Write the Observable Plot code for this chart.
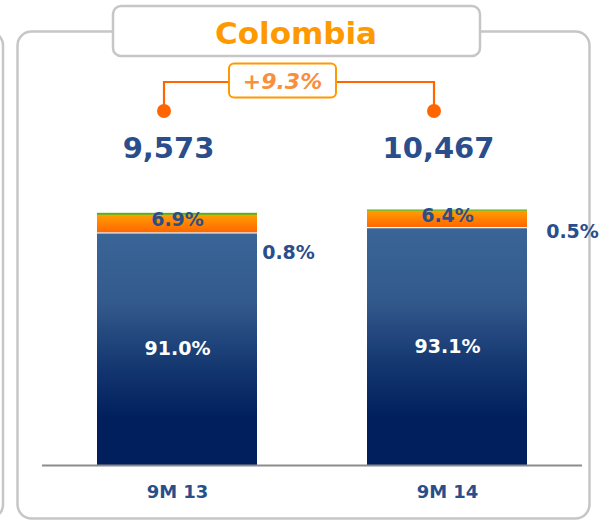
<!DOCTYPE html>
<html><head><meta charset="utf-8">
<script src="https://cdn.jsdelivr.net/npm/d3@7"></script>
<script src="https://cdn.jsdelivr.net/npm/@observablehq/plot@0.6"></script>
<style>body{margin:0;background:#fff;overflow:hidden}</style>
</head><body><div id="chart"></div>
<script>
const title = "Colombia";
const growthLabel = "+9.3%";
const periods = ["9M 13", "9M 14"];
const totals = [9573, 10467];
const mainShare = [91.0, 93.1];
const midShare = [6.9, 6.4];
const topShare = [0.8, 0.5];
const segments = ["main", "mid", "top"];

const fmtPct = v => v.toFixed(1) + "%";
const fmtTot = d3.format(",");
const rows = [];
periods.forEach((p, i) => {
  rows.push({period: p, segment: "main", value: mainShare[i]});
  rows.push({period: p, segment: "mid", value: midShare[i]});
  rows.push({period: p, segment: "top", value: topShare[i]});
});
const fills = {main: "url(#gMain)", mid: "url(#gMid)", top: "#66AA00"};
const totalRows = periods.map((p, i) => ({period: p, total: totals[i]}));
const mainRows = rows.filter(d => d.segment === "main");
const midRows = periods.map((p, i) => ({period: p, y: mainShare[i] + midShare[i] / 2, value: midShare[i]}));
const topRows = periods.map((p, i) => ({period: p, y: mainShare[i] + midShare[i] + topShare[i], value: topShare[i]}));

const blue = "#2A4E8C";
const font = "DejaVu Sans";

const plot = Plot.plot({
  width: 615, height: 522,
  marginTop: 209.5, marginBottom: 57, marginLeft: 42, marginRight: 33,
  style: {fontFamily: font, overflow: "visible", background: "transparent"},
  x: {domain: periods, paddingInner: 110 / 270, paddingOuter: 55 / 270, axis: null},
  y: {domain: [0, 100], axis: null},
  color: {type: "identity"},
  marks: [
    Plot.barY(rows, Plot.stackY({x: "period", y: "value", fill: d => fills[d.segment]})),
    Plot.tickY(mainRows, {x: "period", y: "value", stroke: "#ffffff", strokeWidth: 1.2}),
    Plot.ruleY([0], {stroke: "#8C8C8C", strokeWidth: 2}),
    Plot.text(mainRows, {x: "period", y: d => d.value / 2, text: d => fmtPct(d.value), fill: "#ffffff", fontSize: 19, fontWeight: "bold"}),
    Plot.text(midRows, {x: "period", y: "y", text: d => fmtPct(d.value), fill: blue, fontSize: 19, fontWeight: "bold", dy: -4}),
    Plot.text(topRows.slice(0, 1), {x: "period", y: "y", text: d => fmtPct(d.value), fill: blue, fontSize: 19, fontWeight: "bold", dx: 111, dy: 40}),
    Plot.text(topRows.slice(1), {x: "period", y: "y", text: d => fmtPct(d.value), fill: blue, fontSize: 19, fontWeight: "bold", dx: 125, dy: 22}),
    Plot.text(totalRows, {x: "period", y: 100, text: d => fmtTot(d.total), fill: blue, fontSize: 29, fontWeight: "bold", dx: -9, dy: -61}),
    Plot.text(periods, {x: d => d, y: 0, text: d => d, fill: blue, fontSize: 18, fontWeight: "bold", dy: 27})
  ]
});

const svg = d3.select(plot);
const defs = svg.insert("defs", ":first-child");
const gm = defs.append("linearGradient").attr("id", "gMain").attr("x1", 0).attr("y1", 0).attr("x2", 0).attr("y2", 1);
[[0, "#3A6597"], [0.3, "#335A8D"], [0.55, "#173A73"], [0.8, "#001F5C"], [1, "#001F5C"]]
  .forEach(([o, c]) => gm.append("stop").attr("offset", o).attr("stop-color", c));
const go = defs.append("linearGradient").attr("id", "gMid").attr("x1", 0).attr("y1", 0).attr("x2", 0).attr("y2", 1);
[[0, "#FF9E00"], [1, "#FF6600"]].forEach(([o, c]) => go.append("stop").attr("offset", o).attr("stop-color", c));

// background panels
const bg = svg.insert("g", "defs + *");
bg.append("rect").attr("x", -600).attr("y", 31.5).attr("width", 603).attr("height", 487).attr("rx", 14)
  .attr("fill", "none").attr("stroke", "#C6C6C6").attr("stroke-width", 2.5);
bg.append("rect").attr("x", 17.5).attr("y", 31.5).attr("width", 572).attr("height", 487).attr("rx", 14)
  .attr("fill", "none").attr("stroke", "#C6C6C6").attr("stroke-width", 2.5);

// title box
const fg = svg.append("g");
fg.append("rect").attr("x", 113).attr("y", 6).attr("width", 367).attr("height", 50).attr("rx", 8)
  .attr("fill", "#fff").attr("stroke", "#C6C6C6").attr("stroke-width", 2.5);
fg.append("text").attr("x", 296).attr("y", 44).attr("text-anchor", "middle")
  .attr("font-family", font).attr("font-weight", "bold").attr("font-size", 31).attr("fill", "#FF9900").text(title);

// growth bracket
const xs = plot.scale("x");
const cx = periods.map(p => xs.apply(p) + xs.bandwidth / 2 - 13);
fg.append("path").attr("d", `M${cx[0]},111V82H229M336,82H${cx[1]}V111`)
  .attr("fill", "none").attr("stroke", "#FF6600").attr("stroke-width", 2.2);
cx.forEach(x => fg.append("circle").attr("cx", x).attr("cy", 111).attr("r", 7).attr("fill", "#FF6600"));
fg.append("rect").attr("x", 229).attr("y", 63.5).attr("width", 107).attr("height", 34).attr("rx", 5)
  .attr("fill", "#fff").attr("stroke", "#FF9900").attr("stroke-width", 2);
fg.append("text").attr("x", 282.5).attr("y", 89).attr("text-anchor", "middle")
  .attr("font-family", font).attr("font-weight", "bold").attr("font-style", "italic").attr("font-size", 22)
  .attr("fill", "#F98E3D").text(growthLabel);

document.getElementById("chart").appendChild(plot);
</script>
</body></html>
